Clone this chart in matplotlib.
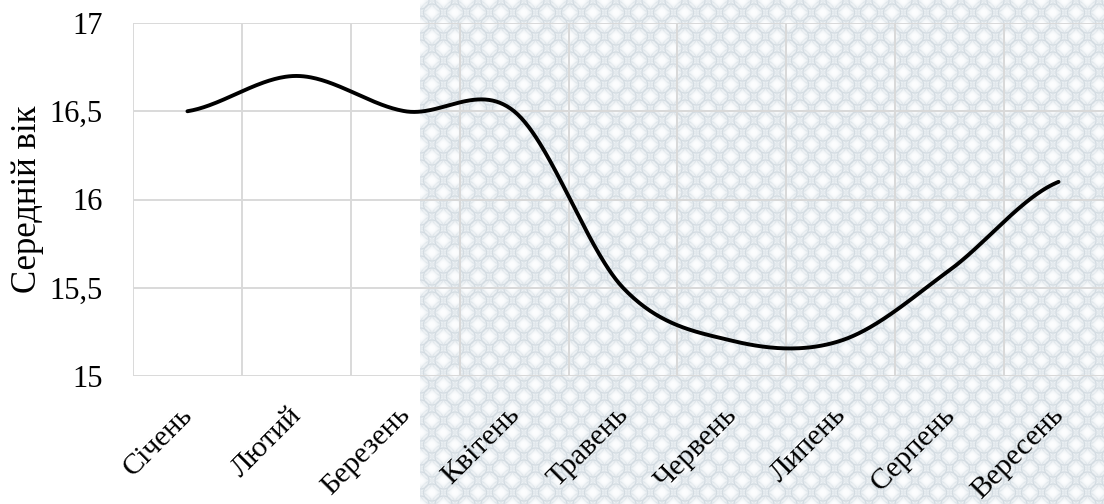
import numpy as np
import matplotlib
matplotlib.use("Agg")
import matplotlib.pyplot as plt
import matplotlib.transforms as mtransforms
from matplotlib.ticker import FixedLocator, FixedFormatter

months = ["Січень", "Лютий", "Березень", "Квітень", "Травень",
          "Червень", "Липень", "Серпень", "Вересень"]
avg_age = [16.5, 16.7, 16.5, 16.5, 15.5, 15.2, 15.2, 15.6, 16.1]
y_ticks = [15, 15.5, 16, 16.5, 17]
y_label = "Середній вік"

plt.rcParams["font.family"] = ["Liberation Serif", "DejaVu Serif"]

W, H, DPI = 1104, 504, 100


def smooth_curve(xs, ys, n=60):
    """Cubic Hermite spline with Catmull-Rom tangents (smoothed line)."""
    xs = np.asarray(xs, float)
    ys = np.asarray(ys, float)
    m = np.empty_like(ys)
    m[1:-1] = (ys[2:] - ys[:-2]) / 2.0
    m[0] = (ys[1] - ys[0]) / 2.0
    m[-1] = (ys[-1] - ys[-2]) / 2.0
    out_x, out_y = [], []
    for i in range(len(xs) - 1):
        t = np.linspace(0, 1, n, endpoint=(i == len(xs) - 2))
        h00 = 2 * t**3 - 3 * t**2 + 1
        h10 = t**3 - 2 * t**2 + t
        h01 = -2 * t**3 + 3 * t**2
        h11 = t**3 - t**2
        out_x.append(xs[i] + t * (xs[i + 1] - xs[i]))
        out_y.append(h00 * ys[i] + h10 * m[i] + h01 * ys[i + 1] + h11 * m[i + 1])
    return np.concatenate(out_x), np.concatenate(out_y)


def lattice_texture(w, h):
    """Light decorative ring lattice used as a backdrop."""
    yy, xx = np.mgrid[0:h, 0:w].astype(float)
    px, py = 23.0, 24.0
    val = np.zeros((h, w))
    white = np.zeros((h, w))
    for ox, oy in [(0.0, 0.0), (px / 2, py / 2)]:
        dx = ((xx - ox + px / 2) % px) - px / 2
        dy = ((yy - oy + py / 2) % py) - py / 2
        d = np.hypot(dx, dy)
        val = np.maximum(val, 0.75 * np.exp(-((d - 8.5) / 0.9) ** 2))
        val = np.maximum(val, 0.4 * np.exp(-((d - 11.5) / 0.8) ** 2))
        white = np.maximum(white, np.clip(1.6 - d / 4.0, 0, 1))
    base = np.array([239, 243, 246]) / 255.0
    line = np.array([202, 212, 219]) / 255.0
    wht = np.array([252, 253, 254]) / 255.0
    img = base[None, None, :] * (1 - val[..., None]) + line[None, None, :] * val[..., None]
    img = img * (1 - white[..., None]) + wht[None, None, :] * white[..., None]
    return img


fig = plt.figure(figsize=(W / DPI, H / DPI), dpi=DPI)
fig.patch.set_facecolor("white")

# decorative backdrop on the right part of the figure
x0 = 420
bg = fig.add_axes([x0 / W, 0, 1 - x0 / W, 1], zorder=0)
bg.imshow(lattice_texture(W - x0, H), aspect="auto", interpolation="bilinear")
bg.set_axis_off()

left, right, top, bottom = 133, 1113, 23, 376
ax = fig.add_axes([left / W, 1 - bottom / H, (right - left) / W, (bottom - top) / H], zorder=1)
ax.patch.set_alpha(0)

x = np.arange(len(months))
sx, sy = smooth_curve(x, avg_age)
ax.plot(sx, sy, color="black", lw=2.8, solid_capstyle="round", zorder=3, clip_on=False)

ax.set_xlim(-0.5, len(months) - 0.5)
ax.set_ylim(y_ticks[0], y_ticks[-1])

ax.xaxis.set_major_locator(FixedLocator(x))
ax.xaxis.set_major_formatter(FixedFormatter(months))
ax.xaxis.set_minor_locator(FixedLocator(np.arange(len(months) + 1) - 0.5))
ax.yaxis.set_major_locator(FixedLocator(y_ticks))
ax.yaxis.set_major_formatter(FixedFormatter([f"{v:g}".replace(".", ",") for v in y_ticks]))

ax.grid(True, which="minor", axis="x", color="#d9d9d9", lw=1.4)
ax.grid(True, which="major", axis="y", color="#d9d9d9", lw=1.4)
ax.set_axisbelow(True)
for s in ax.spines.values():
    s.set_visible(False)

ax.tick_params(axis="both", which="both", length=0)
ax.tick_params(axis="y", labelsize=22, pad=22)
ax.tick_params(axis="x", labelsize=21.5, pad=10)
shift = mtransforms.ScaledTranslation(-8 / DPI, -12 / DPI, fig.dpi_scale_trans)
for lbl in ax.get_xticklabels():
    lbl.set_rotation(45)
    lbl.set_ha("right")
    lbl.set_va("top")
    lbl.set_rotation_mode("anchor")
    lbl.set_transform(lbl.get_transform() + shift)

ax.set_ylabel(y_label, fontsize=25)
ax.yaxis.set_label_coords(-(left - 44) / (right - left), 0.5)

fig.savefig("out.png", dpi=DPI)
